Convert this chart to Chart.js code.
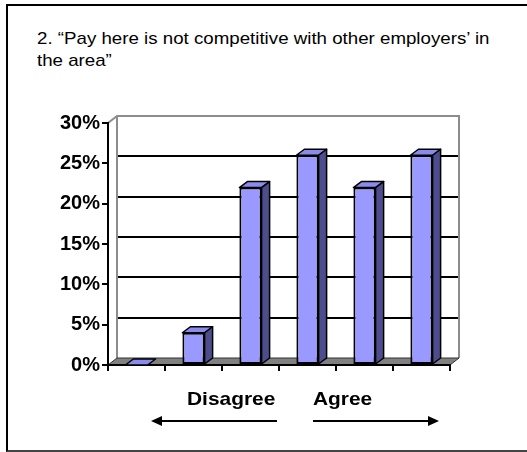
<!DOCTYPE html>
<html>
<head>
<meta charset="UTF-8">
<title>Pay here is not competitive</title>
<script src="https://cdn.jsdelivr.net/npm/chart.js"></script>
<style>
  html, body { margin: 0; padding: 0; background: #fff; overflow: hidden; }
  body { width: 527px; height: 452px; position: relative; font-family: "Liberation Sans", Arial, sans-serif; color: #000; }
  #frame { position: absolute; left: 6px; top: 4px; width: 521px; height: 444px; border-left: 2px solid #000; border-top: 2px solid #000; border-bottom: 2px solid #444; border-right: none; box-sizing: border-box; height: 448px; }
  #title { position: absolute; left: 37px; top: 28px; font-size: 17px; line-height: 22px; white-space: nowrap; transform-origin: 0 0; transform: scaleX(1.1); }
  #chartBox { position: absolute; left: 0; top: 0; width: 527px; height: 452px; }
  .side { position: absolute; top: 388px; font-size: 19px; font-weight: bold; white-space: nowrap; transform-origin: 0 0; transform: scaleX(1.1); }
  #arrows { position: absolute; left: 0; top: 0; }
</style>
</head>
<body>
<div id="frame"></div>
<div id="title">2. “Pay here is not competitive with other employers’ in<br>the area”</div>
<div id="chartBox"><canvas id="payChart"></canvas></div>
<div class="side" style="left:187px">Disagree</div>
<div class="side" style="left:313px">Agree</div>
<svg id="arrows" width="527" height="452">
  <line x1="277" y1="421" x2="160" y2="421" stroke="#000" stroke-width="2"/>
  <polygon points="151,421 162,416 162,426" fill="#000"/>
  <line x1="313" y1="421" x2="430" y2="421" stroke="#000" stroke-width="2"/>
  <polygon points="439,421 428,416 428,426" fill="#000"/>
</svg>

<script>
// answer scale, strongest disagreement on the left
const categories = ['1', '2', '3', '4', '5', '6'];
const shares = [0, 0.04, 0.22, 0.26, 0.22, 0.26];
const yTicks = [0, 0.05, 0.10, 0.15, 0.20, 0.25, 0.30];

// depth of the 3D walls and of the columns
const WALL_DX = 9, WALL_DY = 7;
const BAR_DX = 8, BAR_DY = 6;

const wallPlugin = {
  id: 'wall3d',
  beforeDraw(chart) {
    const ctx = chart.ctx;
    const a = chart.chartArea;
    const y = chart.scales.y;
    ctx.save();
    // back wall gridlines
    ctx.strokeStyle = '#000';
    ctx.lineWidth = 2;
    yTicks.forEach(v => {
      if (v === 0 || v === 0.30) return;
      const py = Math.round(y.getPixelForValue(v)) - WALL_DY;
      ctx.beginPath();
      ctx.moveTo(a.left + WALL_DX, py);
      ctx.lineTo(a.right + WALL_DX, py);
      ctx.stroke();
    });
    // wall outline
    ctx.strokeStyle = '#8c8c8c';
    ctx.lineWidth = 2;
    ctx.beginPath();
    ctx.moveTo(a.left, a.top);
    ctx.lineTo(a.left + WALL_DX, a.top - WALL_DY);
    ctx.lineTo(a.right + WALL_DX, a.top - WALL_DY);
    ctx.lineTo(a.right + WALL_DX, a.bottom - WALL_DY);
    ctx.moveTo(a.left + WALL_DX, a.top - WALL_DY);
    ctx.lineTo(a.left + WALL_DX, a.bottom - WALL_DY);
    ctx.stroke();
    // floor
    ctx.fillStyle = '#808080';
    ctx.strokeStyle = '#333';
    ctx.lineWidth = 1;
    ctx.beginPath();
    ctx.moveTo(a.left, a.bottom);
    ctx.lineTo(a.right, a.bottom);
    ctx.lineTo(a.right + WALL_DX, a.bottom - WALL_DY);
    ctx.lineTo(a.left + WALL_DX, a.bottom - WALL_DY);
    ctx.closePath();
    ctx.fill();
    ctx.stroke();
    ctx.restore();
  },
  afterDatasetsDraw(chart) {
    const ctx = chart.ctx;
    const meta = chart.getDatasetMeta(0);
    ctx.save();
    ctx.strokeStyle = '#000';
    ctx.lineWidth = 1.5;
    ctx.lineJoin = 'round';
    meta.data.forEach(bar => {
      const p = bar.getProps(['x', 'y', 'base', 'width'], true);
      const l = p.x - p.width / 2, r = p.x + p.width / 2;
      // top face
      ctx.fillStyle = '#8b8bec';
      ctx.beginPath();
      ctx.moveTo(l, p.y);
      ctx.lineTo(l + BAR_DX, p.y - BAR_DY);
      ctx.lineTo(r + BAR_DX, p.y - BAR_DY);
      ctx.lineTo(r, p.y);
      ctx.closePath();
      ctx.fill();
      ctx.stroke();
      if (p.base - p.y < 1) return;
      // side face
      ctx.fillStyle = '#4d4d8e';
      ctx.beginPath();
      ctx.moveTo(r, p.y);
      ctx.lineTo(r + BAR_DX, p.y - BAR_DY);
      ctx.lineTo(r + BAR_DX, p.base - BAR_DY);
      ctx.lineTo(r, p.base);
      ctx.closePath();
      ctx.fill();
      ctx.stroke();
    });
    ctx.restore();
  }
};

new Chart(document.getElementById('payChart'), {
  type: 'bar',
  data: {
    labels: categories,
    datasets: [{
      data: shares,
      backgroundColor: '#9999ff',
      borderColor: '#000',
      borderWidth: 2,
      borderSkipped: false,
      categoryPercentage: 1,
      barPercentage: 0.39
    }]
  },
  options: {
    responsive: true,
    maintainAspectRatio: false,
    animation: false,
    layout: { padding: { left: 48, top: 123, right: 77, bottom: 77 } },
    plugins: { legend: { display: false }, tooltip: { enabled: false } },
    scales: {
      x: {
        afterFit(s) { s.height = 10; },
        ticks: { display: false },
        grid: { drawOnChartArea: false, color: '#000', lineWidth: 2, tickLength: 6, offset: true },
        border: { color: '#000', width: 2 }
      },
      y: {
        min: 0,
        max: 0.30,
        afterFit(s) { s.width = 60; },
        afterBuildTicks(s) { s.ticks = yTicks.map(v => ({ value: v })); },
        ticks: {
          color: '#000',
          padding: 2,
          font: { family: '"Liberation Sans", Arial, sans-serif', size: 20, weight: 'bold' },
          callback: v => Math.round(v * 100) + '%'
        },
        grid: { drawOnChartArea: false, color: '#000', lineWidth: 2, tickLength: 6 },
        border: { color: '#000', width: 2 }
      }
    }
  },
  plugins: [wallPlugin]
});
</script>
</body>
</html>
